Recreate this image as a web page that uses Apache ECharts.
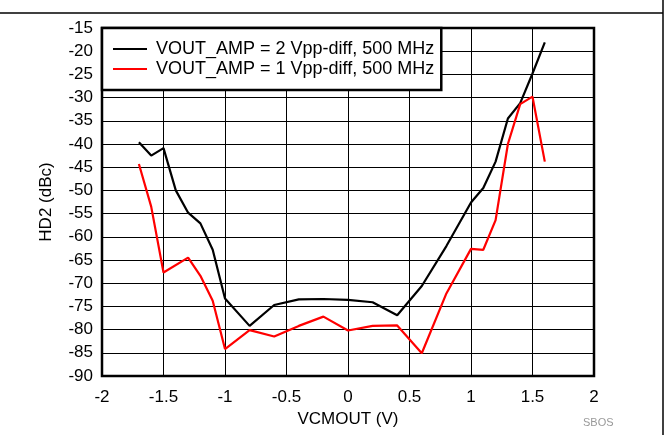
<!DOCTYPE html>
<html>
<head>
<meta charset="utf-8">
<script src="https://cdn.jsdelivr.net/npm/echarts@6/dist/echarts.min.js"></script>
<style>
html,body{margin:0;padding:0;background:#fff;}
#chart{width:669px;height:435px;}
</style>
</head>
<body>
<div id="chart"></div>
<script>
const seriesNames = ['VOUT_AMP = 2 Vpp-diff, 500 MHz', 'VOUT_AMP = 1 Vpp-diff, 500 MHz'];
const xBlack = [-1.7, -1.6, -1.5, -1.4, -1.3, -1.2, -1.1, -1.0, -0.8, -0.6, -0.4, -0.2, 0, 0.2, 0.4, 0.6, 0.8, 1.0, 1.1, 1.2, 1.3, 1.4, 1.5, 1.6];
const yBlack = [-39.6, -42.5, -40.9, -50.0, -54.8, -57.1, -62.8, -73.3, -79.2, -74.7, -73.5, -73.4, -73.6, -74.1, -76.9, -70.6, -62.0, -52.6, -49.5, -43.8, -34.5, -31.2, -24.8, -18.1];
const xRed = [-1.7, -1.6, -1.5, -1.3, -1.2, -1.1, -1.0, -0.8, -0.6, -0.4, -0.2, 0, 0.2, 0.4, 0.6, 0.8, 1.0, 1.1, 1.2, 1.3, 1.4, 1.5, 1.6];
const yRed = [-44.3, -53.5, -67.7, -64.5, -68.4, -73.8, -84.2, -80.1, -81.5, -79.2, -77.2, -80.2, -79.2, -79.1, -85.1, -72.2, -62.6, -62.8, -56.4, -40.0, -31.4, -29.8, -43.8];
const xAxisName = 'VCMOUT (V)';
const yAxisName = 'HD2 (dBc)';
const footnote = 'SBOS';

const FONT = '"Liberation Sans", Arial, sans-serif';
const pairs = (xs, ys) => xs.map((x, i) => [x, ys[i]]);

const chart = echarts.init(document.getElementById('chart'), null, {renderer: 'canvas'});
chart.setOption({
  animation: false,
  backgroundColor: '#fff',
  textStyle: {fontFamily: FONT, color: '#000'},
  grid: {left: 102, top: 28, right: 75, bottom: 59, show: true, borderColor: '#000', borderWidth: 2.5, backgroundColor: 'transparent'},
  xAxis: {
    type: 'value', min: -2, max: 2, interval: 0.5,
    name: xAxisName, nameLocation: 'middle', nameGap: 34,
    nameTextStyle: {fontSize: 17, color: '#000', fontFamily: FONT},
    axisLine: {show: false}, axisTick: {show: false},
    axisLabel: {fontSize: 17, color: '#000', margin: 13, fontFamily: FONT},
    splitLine: {show: true, lineStyle: {color: '#000', width: 1}}
  },
  yAxis: {
    type: 'value', min: -90, max: -15, interval: 5,
    name: yAxisName, nameLocation: 'middle', nameGap: 47, nameRotate: 90,
    nameTextStyle: {fontSize: 17, color: '#000', fontFamily: FONT},
    axisLine: {show: false}, axisTick: {show: false},
    axisLabel: {fontSize: 17, color: '#000', margin: 9, fontFamily: FONT},
    splitLine: {show: true, lineStyle: {color: '#000', width: 1}}
  },
  legend: {
    orient: 'vertical', left: 102, top: 28,
    backgroundColor: '#fff', borderColor: '#000', borderWidth: 2.5,
    padding: [12, 7, 12, 11], itemGap: 2, itemWidth: 34, itemHeight: 18,
    textStyle: {fontSize: 18, color: '#000', fontFamily: FONT, padding: [0, 0, 0, 4]},
    data: [
      {name: seriesNames[0], icon: 'path://M0,0H34V2H0Z'},
      {name: seriesNames[1], icon: 'path://M0,0H34V2H0Z'}
    ]
  },
  graphic: [
    {type: 'line', shape: {x1: 0, y1: 13, x2: 663, y2: 13}, style: {stroke: '#000', lineWidth: 1.5}},
    {type: 'line', shape: {x1: 663, y1: 0, x2: 663, y2: 435}, style: {stroke: '#000', lineWidth: 1.5}},
    {type: 'text', left: 583, top: 417, style: {text: footnote, fontSize: 11, fill: '#999', fontFamily: FONT}}
  ],
  series: [
    {name: seriesNames[0], type: 'line', data: pairs(xBlack, yBlack), showSymbol: false, symbol: 'none',
     lineStyle: {color: '#000', width: 2.2}, itemStyle: {color: '#000'}},
    {name: seriesNames[1], type: 'line', data: pairs(xRed, yRed), showSymbol: false, symbol: 'none',
     lineStyle: {color: '#ff0000', width: 2.2}, itemStyle: {color: '#ff0000'}}
  ]
});
</script>
</body>
</html>
